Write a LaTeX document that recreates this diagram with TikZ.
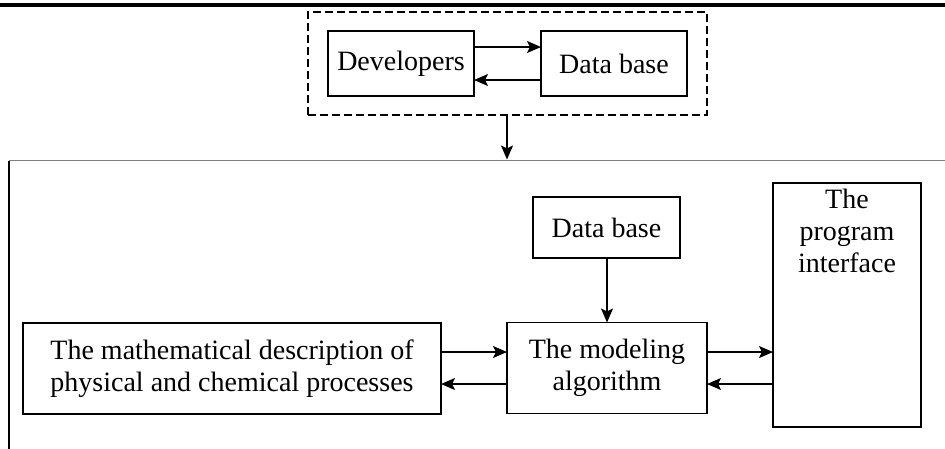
\documentclass[tikz,border=0pt]{standalone}
\usepackage{fontspec}
\setmainfont{Liberation Serif}
\usetikzlibrary{arrows.meta}
\begin{document}
\begin{tikzpicture}[x=1pt,y=-1pt,
  box/.style={draw,line width=1.3pt,inner sep=0pt,outer sep=0pt,font=\fontsize{28}{32}\selectfont,align=center},
  arr/.style={line width=1.3pt,-{Stealth[length=14pt,width=12pt,inset=3pt]}}]
\useasboundingbox (0,0) rectangle (945,448);
% top thick rule
\fill (0,2.5) rectangle (945,7);
% outer frame (top and left)
\draw[line width=1.4pt,gray] (9,160.7) -- (950,160.7);
\draw[line width=1.4pt] (9,160.7) -- (9,460);
% dashed group
\node[draw,dash pattern=on 8pt off 4pt,line width=1.3pt,minimum width=399pt,minimum height=103pt,inner sep=0pt,outer sep=0pt] (grp) at (507.5,63.5) {};
\node[box,minimum width=146pt,minimum height=65pt] (dev) at (401,63.5) {Developers};
\node[box,minimum width=146pt,minimum height=65pt] (db1) at (614,63.5) {Data base};
\draw[arr] (dev.east |- 0,47) -- (db1.west |- 0,47);
\draw[arr] (db1.west |- 0,80) -- (dev.east |- 0,80);
\coordinate (frametop) at (507,159.5);
\draw[arr] (grp.south -| frametop) -- (frametop);
% inner boxes
\node[box,minimum width=147pt,minimum height=61pt] (db2) at (606.5,227.5) {Data base};
\node[box,minimum width=200pt,minimum height=91pt] (alg) at (607,368) {The modeling\\algorithm};
\node[box,minimum width=418pt,minimum height=91pt] (math) at (232,368.5) {The mathematical description of\\physical and chemical processes};
\node[box,minimum width=148pt,minimum height=244pt] (prog) at (847,305) {};
\node[font=\fontsize{28}{32}\selectfont,align=center,anchor=north,inner sep=0pt] (progtxt) at (847,189) {The\\program\\interface};
\draw[arr] (db2.south -| alg.north) -- (alg.north);
\draw[arr] (math.east |- 0,352) -- (alg.west |- 0,352);
\draw[arr] (alg.west |- 0,384) -- (math.east |- 0,384);
\draw[arr] (alg.east |- 0,352) -- (prog.west |- 0,352);
\draw[arr] (prog.west |- 0,384) -- (alg.east |- 0,384);
\end{tikzpicture}
\end{document}
